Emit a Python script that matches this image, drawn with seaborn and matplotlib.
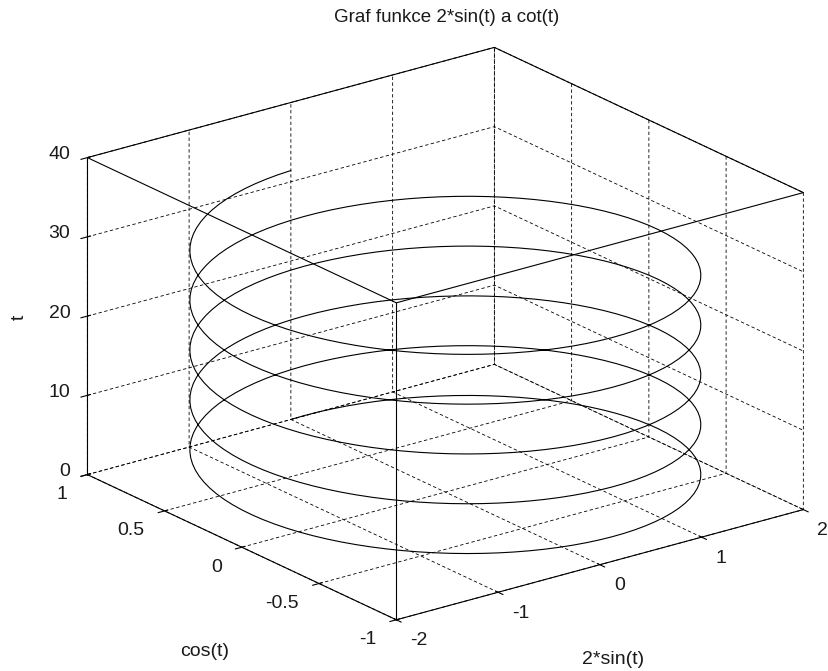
import numpy as np
import matplotlib
matplotlib.use("Agg")
import matplotlib.pyplot as plt
import seaborn as sns
from mpl_toolkits.mplot3d import proj3d

# ---- data ----
t_step = np.pi / 50
t_max = 10 * np.pi
t = np.arange(0, t_max + t_step / 2, t_step)
x_vals = 2 * np.sin(t)
y_vals = np.cos(t)
z_vals = t

x_ticks = [-2, -1, 0, 1, 2]
y_ticks = [-1, -0.5, 0, 0.5, 1]
z_ticks = [0, 10, 20, 30, 40]
x_ticklabels = ["-2", "-1", "0", "1", "2"]
y_ticklabels = ["-1", "-0.5", "0", "0.5", "1"]
z_ticklabels = ["0", "10", "20", "30", "40"]
x_label = "2*sin(t)"
y_label = "cos(t)"
z_label = "t"
title = "Graf funkce 2*sin(t) a cot(t)"

sns.set_style("white")
plt.rcParams["font.family"] = ["Liberation Sans", "DejaVu Sans"]
plt.rcParams.update({
    "grid.color": "black",
    "grid.linestyle": (0, (4, 3)),
    "grid.linewidth": 0.6,
    "xtick.color": "black",
    "ytick.color": "black",
    "axes.unicode_minus": False,
})
TXT = "#1a1a1a"
FS = 14

W, H = 829, 671
fig = plt.figure(figsize=(W / 100, H / 100), dpi=100)
fig.patch.set_facecolor("white")
ax = fig.add_axes([0.05, 0.05, 0.9, 0.9], projection="3d", proj_type="ortho")
ax.set_facecolor("white")
ax.view_init(elev=20.9, azim=-127.2)
ax.set_box_aspect((1, 1, 0.664))

ax.plot(x_vals, y_vals, z_vals, color="black", lw=0.8)

ax.set_xlim(x_ticks[0], x_ticks[-1])
ax.set_ylim(y_ticks[0], y_ticks[-1])
ax.set_zlim(z_ticks[0], z_ticks[-1])
ax.set_xticks(x_ticks)
ax.set_yticks(y_ticks)
ax.set_zticks(z_ticks)
ax.set_xticklabels([""] * len(x_ticks))
ax.set_yticklabels([""] * len(y_ticks))
ax.set_zticklabels([""] * len(z_ticks))

for a in (ax.xaxis, ax.yaxis, ax.zaxis):
    a.set_pane_color((1, 1, 1, 0))
    a.pane.set_edgecolor("black")
    a.pane.set_linewidth(0.8)
    a.line.set_color("black")
    a.line.set_linewidth(0.8)

# full box outline (front edges)
x0, x1 = ax.get_xlim()
y0, y1 = ax.get_ylim()
z0, z1 = ax.get_zlim()
edges = [
    ([x0, x0], [y0, y0], [z0, z1]),
    ([x0, x0], [y1, y0], [z1, z1]),
    ([x0, x1], [y0, y0], [z1, z1]),
    ([x1, x1], [y0, y1], [z1, z1]),
    ([x0, x1], [y1, y1], [z1, z1]),
]
for ex, ey, ez in edges:
    ax.plot(ex, ey, ez, color="black", lw=0.8)

# ---- fit the projected box to the reference layout ----
target = {"A": (87, 474), "B": (397, 620), "C": (803, 510)}


def to_px(xs, ys, zs):
    M = ax.get_proj()
    X, Y, _ = proj3d.proj_transform(np.asarray(xs, float), np.asarray(ys, float),
                                    np.asarray(zs, float), M)
    pts = ax.transData.transform(np.column_stack([X, Y]))
    pts[:, 1] = H - pts[:, 1]
    return pts


for _ in range(3):
    fig.canvas.draw()
    pts = to_px([x0, x0, x1], [y1, y0, y0], [z0, z0, z0])
    k = (target["C"][0] - target["A"][0]) / (pts[2, 0] - pts[0, 0])
    cur_c = pts.mean(axis=0)
    tgt_c = np.mean(np.array(list(target.values()), float), axis=0)
    pos = ax.get_position()
    side = min(pos.width * W, pos.height * H)
    acx = (pos.x0 + pos.width / 2) * W
    acy = H - (pos.y0 + pos.height / 2) * H
    off = cur_c - np.array([acx, acy])
    new_side = side * k
    ncx, ncy = tgt_c - k * off
    ax.set_position([(ncx - new_side / 2) / W, (H - ncy - new_side / 2) / H,
                     new_side / W, new_side / H])

fig.canvas.draw()


def put(px, py, s, **kw):
    fig.text(px / W, 1 - py / H, s, color=TXT, fontsize=kw.pop("fontsize", FS), **kw)


# tick labels (MATLAB style placement)
zp = to_px([x0] * len(z_ticks), [y1] * len(z_ticks), z_ticks)
for (px, py), s in zip(zp, z_ticklabels):
    put(px - 17, py - 3, s, ha="right", va="center")
yp = to_px([x0] * len(y_ticks), y_ticks, [z0] * len(y_ticks))
for (px, py), s in zip(yp, y_ticklabels):
    put(px - 20, py + 20, s, ha="right", va="center")
xp = to_px(x_ticks, [y0] * len(x_ticks), [z0] * len(x_ticks))
for (px, py), s in zip(xp, x_ticklabels):
    put(px + 14, py + 21, s, ha="left", va="center")

# axis labels and title
put(205, 652, y_label, ha="center", va="center")
put(613, 659, x_label, ha="center", va="center")
put(19, 317, z_label, ha="center", va="center", rotation=90)
put(447, 18, title, ha="center", va="center", fontsize=13.5)

fig.savefig("out.png", dpi=100, facecolor="white")
